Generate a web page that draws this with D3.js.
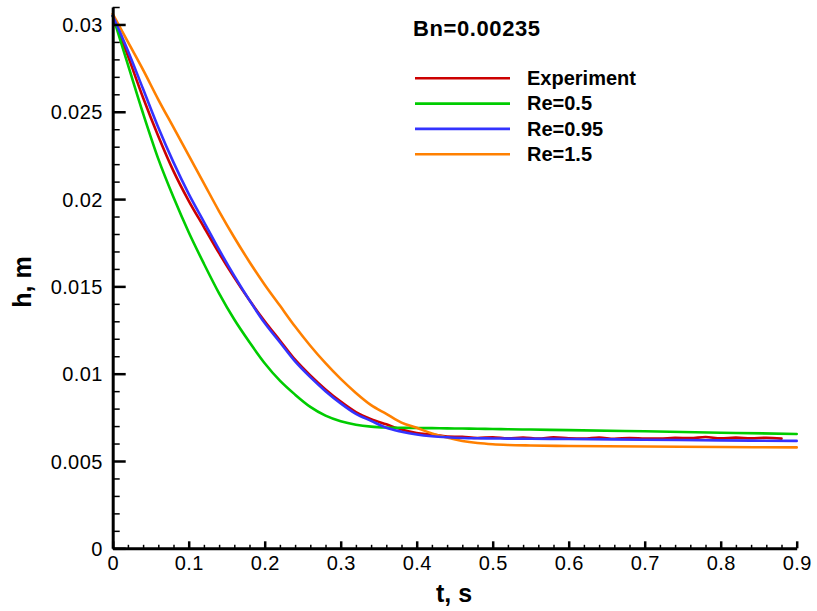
<!DOCTYPE html>
<html>
<head>
<meta charset="utf-8">
<script src="https://cdn.jsdelivr.net/npm/d3@7"></script>
<style>
  html, body { margin: 0; padding: 0; background: #fff; }
  svg { display: block; font-family: "Liberation Sans", Arial, sans-serif; }
</style>
</head>
<body>
<svg id="chart" width="817" height="611"></svg>
<script>
// ---- data ----
const tModel = [0, 0.02, 0.04, 0.06, 0.08, 0.10, 0.12, 0.14, 0.16, 0.18, 0.20, 0.22, 0.24, 0.26, 0.28, 0.30, 0.32, 0.34, 0.36, 0.38, 0.40, 0.42, 0.44, 0.46, 0.48, 0.50, 0.52, 0.55, 0.60, 0.70, 0.80, 0.90];
const hRe05  = [0.0305, 0.0277, 0.0249, 0.0223, 0.0201, 0.0181, 0.0163, 0.0146, 0.0131, 0.0118, 0.0106, 0.0096, 0.0088, 0.0081, 0.0076, 0.00728, 0.00708, 0.00697, 0.00692, 0.0069, 0.00689, 0.00688, 0.00687, 0.00686, 0.00685, 0.00683, 0.00682, 0.0068, 0.00677, 0.0067, 0.00662, 0.00655];
const hRe095 = [0.0305, 0.0285, 0.0263, 0.0241, 0.0221, 0.0203, 0.0187, 0.0171, 0.0156, 0.0142, 0.0129, 0.0118, 0.0107, 0.0098, 0.0090, 0.0083, 0.0077, 0.0073, 0.0069, 0.00668, 0.00652, 0.00642, 0.00636, 0.00632, 0.0063, 0.00629, 0.00628, 0.00627, 0.00626, 0.00622, 0.00618, 0.00615];
const hRe15  = [0.0306, 0.0290, 0.0274, 0.0257, 0.0241, 0.0225, 0.0209, 0.0193, 0.0178, 0.0164, 0.0151, 0.0139, 0.0127, 0.0116, 0.0106, 0.0097, 0.0089, 0.0082, 0.0077, 0.0072, 0.0069, 0.00658, 0.00634, 0.00615, 0.00603, 0.00596, 0.00592, 0.00589, 0.00586, 0.00583, 0.0058, 0.00578];

const tExp = [0, 0.02, 0.04, 0.06, 0.08, 0.10, 0.12, 0.14, 0.16, 0.18, 0.20, 0.22, 0.24, 0.26, 0.28, 0.30, 0.32, 0.34, 0.36, 0.38, 0.40, 0.42, 0.44, 0.46, 0.48, 0.50, 0.52, 0.54, 0.56, 0.58, 0.60, 0.62, 0.64, 0.66, 0.68, 0.70, 0.72, 0.74, 0.76, 0.78, 0.80, 0.82, 0.84, 0.86, 0.88];
const hExp = [0.0305, 0.0282, 0.0258, 0.0236, 0.0216, 0.0199, 0.0184, 0.0169, 0.0155, 0.0142, 0.0130, 0.0119, 0.0108, 0.0099, 0.0091, 0.0084, 0.0078, 0.0074, 0.0071, 0.0068, 0.0066, 0.00652, 0.0064, 0.00638, 0.00632, 0.00636, 0.0063, 0.00634, 0.00628, 0.00635, 0.0063, 0.00628, 0.00634, 0.00627, 0.00632, 0.00629, 0.00628, 0.00633, 0.00631, 0.00637, 0.0063, 0.00634, 0.0063, 0.00633, 0.00628];

const seriesNames  = ["Experiment", "Re=0.5", "Re=0.95", "Re=1.5"];
const seriesColors = ["#cc0000", "#00cc00", "#3333ff", "#ff8000"];
const xTicks = [0, 0.1, 0.2, 0.3, 0.4, 0.5, 0.6, 0.7, 0.8, 0.9];
const xTickLabels = ["0", "0.1", "0.2", "0.3", "0.4", "0.5", "0.6", "0.7", "0.8", "0.9"];
const yTicks = [0, 0.005, 0.01, 0.015, 0.02, 0.025, 0.03];
const yTickLabels = ["0", "0.005", "0.01", "0.015", "0.02", "0.025", "0.03"];
const titleText = "Bn=0.00235";
const xTitle = "t, s";
const yTitle = "h, m";

// ---- layout ----
const svg = d3.select("#chart");
const x = d3.scaleLinear().domain([0, 0.9]).range([112.7, 796.7]);
const y = d3.scaleLinear().domain([0, 0.031]).range([548.3, 7]);

const series = [
  { name: seriesNames[0], color: seriesColors[0], pts: tExp.map((t, i) => [t, hExp[i]]) },
  { name: seriesNames[1], color: seriesColors[1], pts: tModel.map((t, i) => [t, hRe05[i]]) },
  { name: seriesNames[2], color: seriesColors[2], pts: tModel.map((t, i) => [t, hRe095[i]]) },
  { name: seriesNames[3], color: seriesColors[3], pts: tModel.map((t, i) => [t, hRe15[i]]) }
];

const line = d3.line().x(d => x(d[0])).y(d => y(d[1])).curve(d3.curveMonotoneX);

// draw order: experiment, Re=0.5, Re=1.5, Re=0.95 on top
const drawOrder = [0, 1, 3, 2];
svg.append("g").selectAll("path")
  .data(drawOrder.map(i => series[i]))
  .join("path")
  .attr("d", d => line(d.pts))
  .attr("fill", "none")
  .attr("stroke", d => d.color)
  .attr("stroke-width", 2.6)
  .attr("stroke-linejoin", "round")
  .attr("stroke-linecap", "round");

// ---- axes ----
const fs = 20;
const xMinor = d3.range(0, 0.9001, 0.02).filter(v => Math.abs(v * 10 - Math.round(v * 10)) > 1e-6);
svg.append("g").attr("transform", `translate(0,${y(0)})`)
  .call(d3.axisBottom(x).tickValues(xMinor).tickSize(-3.5).tickSizeOuter(0).tickFormat(""))
  .call(g => g.select(".domain").remove())
  .call(g => g.selectAll("line").attr("stroke", "#000").attr("stroke-width", 1.5));
const yMinor = d3.range(0, 0.0310001, 0.001).filter(v => Math.abs(v * 200 - Math.round(v * 200)) > 1e-6);
svg.append("g").attr("transform", `translate(${x(0)},0)`)
  .call(d3.axisLeft(y).tickValues(yMinor).tickSize(-7).tickSizeOuter(0).tickFormat(""))
  .call(g => g.select(".domain").remove())
  .call(g => g.selectAll("line").attr("stroke", "#000").attr("stroke-width", 1.5));

const xAxis = svg.append("g").attr("transform", `translate(0,${y(0)})`)
  .call(d3.axisBottom(x).tickValues(xTicks).tickSize(-7).tickSizeOuter(0).tickPadding(8)
    .tickFormat((d, i) => xTickLabels[i]));
xAxis.select(".domain").attr("stroke", "#000").attr("stroke-width", 3);
xAxis.selectAll("line").attr("stroke", "#000").attr("stroke-width", 2.5);
xAxis.selectAll("text").attr("font-size", fs).attr("fill", "#000").attr("letter-spacing", 0.4)
  .style("font-family", "Liberation Sans, Arial, sans-serif");

const yAxis = svg.append("g").attr("transform", `translate(${x(0)},0)`)
  .call(d3.axisLeft(y).tickValues(yTicks).tickSize(-13).tickSizeOuter(0).tickPadding(10)
    .tickFormat((d, i) => yTickLabels[i]));
yAxis.select(".domain").attr("stroke", "#000").attr("stroke-width", 3);
yAxis.selectAll("line").attr("stroke", "#000").attr("stroke-width", 2.5);
yAxis.selectAll("text").attr("font-size", fs).attr("fill", "#000").attr("dy", "0.36em").attr("letter-spacing", 0.4)
  .style("font-family", "Liberation Sans, Arial, sans-serif");

// ---- titles ----
svg.append("text").attr("x", 454).attr("y", 601.5).attr("text-anchor", "middle")
  .attr("font-size", 25).attr("font-weight", "bold").text(xTitle);
svg.append("text").attr("transform", "translate(31,282) rotate(-90)").attr("text-anchor", "middle")
  .attr("font-size", 25).attr("font-weight", "bold").text(yTitle);

svg.append("text").attr("x", 413).attr("y", 36)
  .attr("font-size", 22).attr("font-weight", "bold").attr("letter-spacing", 0.6).text(titleText);

// ---- legend ----
const legendY0 = 78.3, legendDy = 25.3;
const leg = svg.append("g");
series.forEach((s, i) => {
  const ly = legendY0 + i * legendDy;
  leg.append("line").attr("x1", 415).attr("x2", 510).attr("y1", ly).attr("y2", ly)
    .attr("stroke", s.color).attr("stroke-width", 2.6);
  leg.append("text").attr("x", 527).attr("y", ly + 6.8)
    .attr("font-size", 20).attr("font-weight", "bold").text(s.name);
});
</script>
</body>
</html>
